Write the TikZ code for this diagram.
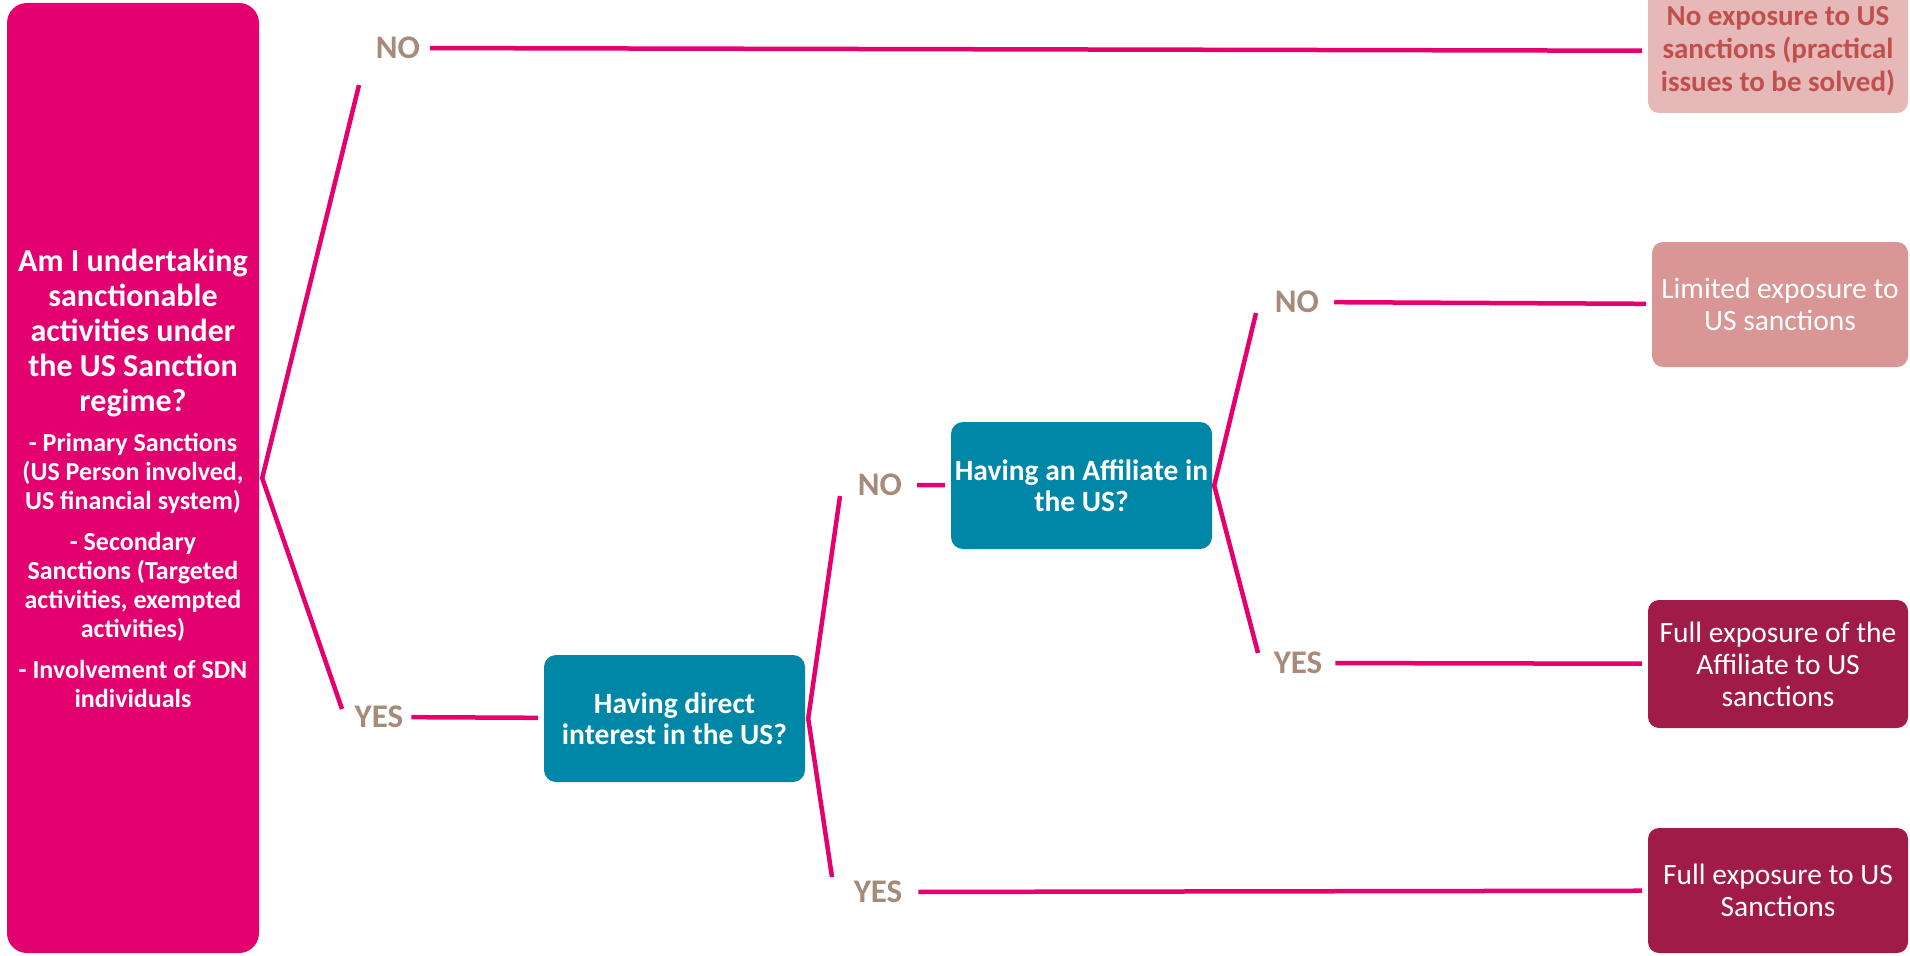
\documentclass[tikz,border=0pt]{standalone}
\usepackage{fontspec}
\setmainfont{Carlito}
\usepackage{xcolor}

\definecolor{regimepink}{RGB}{227,0,111}
\definecolor{branchpink}{RGB}{229,0,110}
\definecolor{questionteal}{RGB}{0,134,166}
\definecolor{answertaupe}{RGB}{166,139,122}
\definecolor{noexpfill}{RGB}{230,184,183}
\definecolor{noexptext}{RGB}{192,80,77}
\definecolor{limitedfill}{RGB}{217,150,148}
\definecolor{fullfill}{RGB}{160,27,72}

\begin{document}
\begin{tikzpicture}[x=1pt,y=-1pt,
    regime_node/.style={rectangle,rounded corners=20pt,fill=regimepink,text=white,font=\bfseries,align=center,text width=280pt,minimum width=252pt,minimum height=950pt,inner xsep=-14pt,inner ysep=0pt},
    question_node/.style={rectangle,rounded corners=12pt,fill=questionteal,text=white,font=\bfseries\fontsize{29.5}{31}\selectfont,align=center,minimum width=261pt,minimum height=127pt,inner sep=0pt},
    outcome_node/.style={rectangle,rounded corners=11pt,text=white,font=\fontsize{29.5}{32}\selectfont,align=center,minimum width=260pt,minimum height=126pt,inner sep=0pt},
    answer_label/.style={text=answertaupe,font=\bfseries\fontsize{33}{36}\selectfont,inner sep=0pt},
    branch_line/.style={draw=branchpink,line width=4.5pt,shorten >=6pt}]

    \useasboundingbox (0,0) rectangle (1910,955);

    \node[regime_node] (q1) at (133,478) {\fontsize{32}{35}\selectfont\spaceskip=\fontdimen2\font Am I undertaking\\ sanctionable\\ activities under\\ the US Sanction\\ regime?\\[11pt]
        \fontsize{26}{29}\selectfont\spaceskip=\fontdimen2\font - Primary Sanctions\\ (US Person involved,\\ US financial system)\\[12pt]
        - Secondary\\ Sanctions (Targeted\\ activities, exempted\\ activities)\\[12pt]
        - Involvement of SDN\\ individuals\par};
    \node[question_node] (q2) at (674.5,718.5) {Having direct\\ interest in the US?};
    \node[question_node] (q3) at (1081.5,485.5) {Having an Affiliate in\\ the US?};

    \node[outcome_node, fill=noexpfill, text=noexptext, font=\bfseries\fontsize{29}{33}\selectfont, minimum height=124pt] (r1) at (1778,51) {No exposure to US\\ sanctions (practical\\ issues to be solved)};
    \node[outcome_node, fill=limitedfill, minimum width=256pt, minimum height=125pt] (r2) at (1780,304.5) {Limited exposure to\\ US sanctions};
    \node[outcome_node, fill=fullfill, minimum height=128pt] (r3) at (1778,664) {Full exposure of the\\ Affiliate to US\\ sanctions};
    \node[outcome_node, fill=fullfill, minimum height=125pt] (r4) at (1778,890.5) {Full exposure to US\\ Sanctions};

    \node[answer_label] (no1) at (398,48) {NO};
    \node[answer_label] (yes1) at (379,717) {YES};
    \node[answer_label] (no2) at (880,485) {NO};
    \node[answer_label] (yes2) at (878,892) {YES};
    \node[answer_label] (no3) at (1297,302) {NO};
    \node[answer_label] (yes3) at (1298,663) {YES};

    \coordinate (n1) at (359,85);
    \coordinate (y1) at (342,709);
    \coordinate (n2) at (840,496);
    \coordinate (y2) at (832,877);
    \coordinate (n3) at (1256,313);
    \coordinate (y3) at (1258,653);

    % forks
    \draw[branch_line,shorten >=0pt] (n1) -- ([xshift=3pt]q1.east) -- (y1);
    \draw[branch_line,shorten >=0pt] (n2) -- ([xshift=3pt]q2.east) -- (y2);
    \draw[branch_line,shorten >=0pt] (n3) -- ([xshift=2pt]q3.east) -- (y3);

    \path[branch_line]
    (no1) edge[shorten <=10pt] (r1)
    (yes1) edge[shorten <=8pt] (q2)
    (no2) edge[shorten <=15pt] (q3)
    (yes2) edge[shorten <=16pt] (r4)
    (no3) edge[shorten <=15pt] (r2)
    (yes3) edge[shorten <=13pt] (r3)
    ;
\end{tikzpicture}
\end{document}
